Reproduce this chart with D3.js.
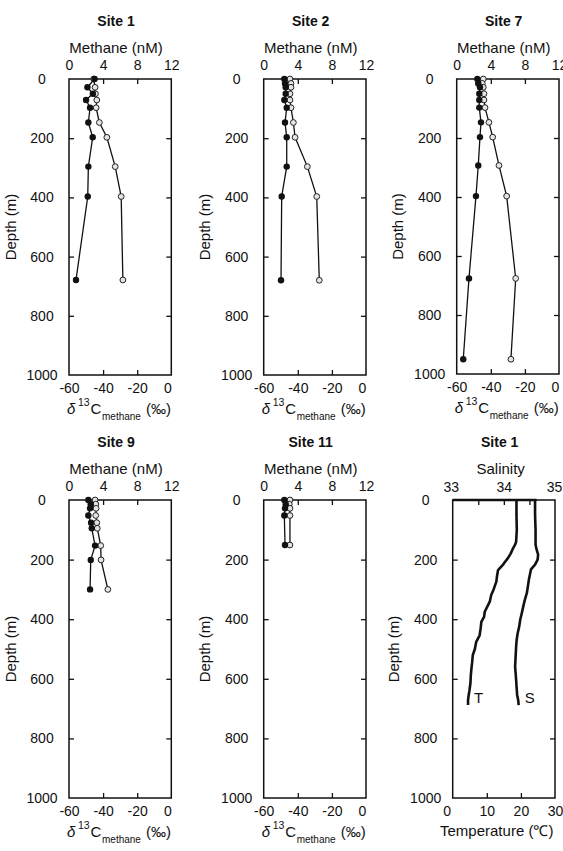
<!DOCTYPE html>
<html>
<head>
<meta charset="utf-8">
<script src="https://cdn.jsdelivr.net/npm/d3@7"></script>
<style>
  body { margin: 0; background: #fff; }
  svg { display: block; }
  text { font-family: "Liberation Sans", Arial, Helvetica, sans-serif; fill: #111; }
</style>
</head>
<body>
<div id="chart"></div>
<script>

// depth (m), methane (nM, filled), d13C of methane (permil, open)
var site1Depth = [0, 28, 50, 71, 97, 147, 197, 296, 397, 679];
var site1CH4   = [3.0, 2.16, 2.8, 2.0, 2.47, 2.27, 2.78, 2.27, 2.2, 0.82];
var site1D13C  = [-45.5, -44.7, -44.5, -43.7, -44.1, -42.2, -37.8, -32.9, -29.4, -28.4];

var site2Depth = [0, 15, 28, 50, 71, 97, 147, 197, 296, 397, 680];
var site2CH4   = [2.42, 2.5, 2.58, 2.58, 2.42, 2.7, 2.5, 2.7, 2.7, 2.11, 2.03];
var site2D13C  = [-44.6, -44.0, -44.0, -44.6, -44.6, -44.0, -42.6, -41.6, -34.4, -28.9, -27.4];

var site7Depth = [0, 15, 28, 50, 71, 97, 147, 197, 293, 397, 676, 950];
var site7CH4   = [2.42, 2.53, 2.73, 2.65, 2.65, 2.65, 2.85, 2.73, 2.53, 2.26, 1.44, 0.77];
var site7D13C  = [-44.4, -45.0, -44.4, -44.0, -44.0, -43.4, -41.1, -38.9, -35.2, -30.7, -25.4, -28.2];

var site9Depth = [0, 14, 28, 52, 76, 95, 153, 201, 300];
var site9CH4   = [2.27, 2.55, 2.47, 2.27, 2.59, 2.67, 3.06, 2.55, 2.47];
var site9D13C  = [-44.7, -44.3, -44.1, -44.3, -43.7, -43.4, -41.4, -41.2, -37.2];

var site11Depth = [0, 14, 28, 52, 151];
var site11CH4   = [2.42, 2.58, 2.5, 2.42, 2.5];
var site11D13C  = [-44.6, -45.0, -44.6, -44.6, -44.6];

// Site 1 CTD profile
var tempDepth = [0, 50, 100, 140, 150, 162, 180, 195, 210, 218, 235, 255, 274, 300, 319, 340, 375, 392, 409, 430, 454, 476, 500, 520, 545, 565, 590, 615, 640, 654, 671, 688];
var tempValue = [18.7, 18.7, 18.8, 18.6, 18.3, 17.7, 17.0, 16.2, 15.2, 14.7, 13.3, 13.0, 12.8, 12.0, 11.3, 10.9, 9.4, 9.2, 8.4, 8.2, 7.9, 6.9, 6.5, 5.9, 5.7, 5.5, 5.3, 5.2, 4.9, 4.7, 4.5, 4.5];
var salDepth = [0, 50, 100, 150, 166, 183, 200, 217, 233, 250, 267, 290, 312, 335, 357, 380, 402, 425, 447, 470, 492, 525, 559, 580, 604, 630, 654, 671, 688];
var salValue = [34.61, 34.61, 34.62, 34.62, 34.64, 34.67, 34.66, 34.61, 34.53, 34.51, 34.49, 34.47, 34.45, 34.41, 34.38, 34.35, 34.32, 34.30, 34.27, 34.25, 34.24, 34.23, 34.22, 34.23, 34.24, 34.25, 34.26, 34.28, 34.29];

var depthTicks = [0, 200, 400, 600, 800, 1000];
var ch4Ticks = [0, 4, 8, 12];
var d13cTicks = [-60, -40, -20, 0];
var salTicks = [33, 34, 35];
var salInnerTicks = [33.5, 34, 34.5];
var tempTicks = [0, 10, 20, 30];

var width = 563, height = 851;
var boxW = 102.3;
var ink = "#111";
var plain = function(d) { return String(d); };

var svg = d3.select("#chart").append("svg")
    .attr("width", width)
    .attr("height", height);

function inner(ticks) {
   return ticks.slice(1, ticks.length - 1);
}

function styleAxis(g) {
   g.select(".domain").remove();
   g.attr("font-size", 14).attr("font-family", null);
   g.selectAll("line").attr("stroke", ink).attr("stroke-width", 1.3);
   g.selectAll("text").attr("fill", ink);
}

function frame(left, top, h, title) {
   var g = svg.append("g").attr("transform", "translate(" + left + "," + top + ")");
   var y = d3.scaleLinear().domain([0, 1000]).range([0, h]);

   g.append("text")
    .attr("x", 47).attr("y", -53)
    .attr("text-anchor", "middle")
    .attr("font-size", 14).attr("font-weight", "bold")
    .text(title);

   // depth axes, ticks inward on both sides
   var yl = g.append("g").call(d3.axisLeft(y).tickValues(depthTicks).tickSize(-5).tickFormat(plain));
   styleAxis(yl);
   yl.selectAll("text").attr("x", -27).attr("text-anchor", "middle");
   yl.selectAll("line").filter(function(d) { return d == 0 || d == 1000; }).remove();

   var yr = g.append("g").attr("transform", "translate(" + boxW + ",0)")
     .call(d3.axisRight(y).tickValues(inner(depthTicks)).tickSize(-5).tickFormat(""));
   styleAxis(yr);

   g.append("text")
    .attr("transform", "translate(-59," + (h / 2) + ") rotate(-90)")
    .attr("text-anchor", "middle")
    .attr("dominant-baseline", "central")
    .attr("font-size", 15)
    .text("Depth (m)");

   return { g: g, y: y, h: h };
}

function border(p, topWidth) {
   p.g.append("rect")
    .attr("width", boxW).attr("height", p.h)
    .attr("fill", "none").attr("stroke", ink).attr("stroke-width", 1.5);
   if (topWidth) {
      p.g.append("line")
       .attr("x1", 0).attr("x2", boxW * 0.82).attr("y1", 0).attr("y2", 0)
       .attr("stroke", ink).attr("stroke-width", topWidth);
   }
}

function methanePanel(left, top, h, title, depth, ch4, d13c) {
   var p = frame(left, top, h, title);
   var g = p.g, y = p.y;
   var xC = d3.scaleLinear().domain([0, 12]).range([0, boxW]);
   var xD = d3.scaleLinear().domain([-60, 0]).range([0, boxW]);

   var ta = g.append("g").call(d3.axisTop(xC).tickValues(ch4Ticks).tickSize(-5).tickPadding(9).tickFormat(plain));
   styleAxis(ta);
   ta.selectAll("line").filter(function(d) { return d == 0 || d == 12; }).remove();

   var ba = g.append("g").attr("transform", "translate(0," + h + ")")
     .call(d3.axisBottom(xD).tickValues(d13cTicks).tickSize(-5).tickPadding(8).tickFormat(plain));
   styleAxis(ba);
   ba.selectAll("line").filter(function(d) { return d == -60 || d == 0; }).remove();
   ba.selectAll("text").filter(function(d) { return d == 0; }).attr("dx", -4);

   g.append("text")
    .attr("x", 47).attr("y", -26)
    .attr("text-anchor", "middle")
    .attr("font-size", 15)
    .text("Methane (nM)");

   // delta 13C methane label
   var by = h + 38.5;
   g.append("text").attr("x", -2).attr("y", by).attr("font-size", 15).attr("font-style", "italic").text("δ");
   g.append("text").attr("x", 9).attr("y", by - 8).attr("font-size", 10.5).text("13");
   g.append("text").attr("x", 21.5).attr("y", by).attr("font-size", 15).text("C");
   g.append("text").attr("x", 33).attr("y", by + 6).attr("font-size", 10).text("methane");
   g.append("text").attr("x", 77).attr("y", by).attr("font-size", 15).text("(‰)");

   border(p);

   var rows = depth.map(function(d, i) { return { depth: d, ch4: ch4[i], d13c: d13c[i] }; });

   var lineC = d3.line().x(function(d) { return xC(d.ch4); }).y(function(d) { return y(d.depth); });
   var lineD = d3.line().x(function(d) { return xD(d.d13c); }).y(function(d) { return y(d.depth); });

   g.append("path").datum(rows).attr("d", lineD)
    .attr("fill", "none").attr("stroke", ink).attr("stroke-width", 1.3);
   g.append("path").datum(rows).attr("d", lineC)
    .attr("fill", "none").attr("stroke", ink).attr("stroke-width", 1.3);

   g.selectAll(".open").data(rows).enter()
    .append("circle").attr("class", "open")
    .attr("cx", function(d) { return xD(d.d13c); })
    .attr("cy", function(d) { return y(d.depth); })
    .attr("r", 2.9)
    .attr("fill", "#e4e4e4").attr("stroke", "#222").attr("stroke-width", 1);

   g.selectAll(".filled").data(rows).enter()
    .append("circle").attr("class", "filled")
    .attr("cx", function(d) { return xC(d.ch4); })
    .attr("cy", function(d) { return y(d.depth); })
    .attr("r", 3.2)
    .attr("fill", ink);
}

function ctdPanel(left, top, h, title) {
   var p = frame(left, top, h, title);
   var g = p.g, y = p.y;
   var xS = d3.scaleLinear().domain([33, 35]).range([0, boxW]);
   var xT = d3.scaleLinear().domain([0, 30]).range([0, boxW]);

   var ta = g.append("g").call(d3.axisTop(xS).tickValues(salTicks).tickSize(0).tickPadding(8).tickFormat(plain));
   styleAxis(ta);
   ta.selectAll("text").filter(function(d) { return d == 33; }).attr("dx", -2);
   ta.selectAll("text").filter(function(d) { return d == 35; }).attr("dx", -1);
   g.append("g").call(function(s) {
      s.call(d3.axisTop(xS).tickValues(salInnerTicks).tickSize(-5).tickFormat(""));
      styleAxis(s);
   });

   var ba = g.append("g").attr("transform", "translate(0," + h + ")")
     .call(d3.axisBottom(xT).tickValues(tempTicks).tickSize(-5).tickPadding(8).tickFormat(plain));
   styleAxis(ba);
   ba.selectAll("line").filter(function(d) { return d == 0 || d == 30; }).remove();
   ba.selectAll("text").filter(function(d) { return d == 0; }).attr("dx", -6);

   g.append("text")
    .attr("x", 48).attr("y", -26)
    .attr("text-anchor", "middle")
    .attr("font-size", 15)
    .text("Salinity");

   g.append("text")
    .attr("x", 44).attr("y", h + 38)
    .attr("text-anchor", "middle")
    .attr("font-size", 15)
    .text("Temperature (℃)");

   border(p, 2.5);

   var tRows = tempDepth.map(function(d, i) { return { depth: d, v: tempValue[i] }; });
   var sRows = salDepth.map(function(d, i) { return { depth: d, v: salValue[i] }; });

   var lineT = d3.line().x(function(d) { return xT(d.v); }).y(function(d) { return y(d.depth); });
   var lineS = d3.line().x(function(d) { return xS(d.v); }).y(function(d) { return y(d.depth); });

   g.append("path").datum(tRows).attr("d", lineT)
    .attr("fill", "none").attr("stroke", ink).attr("stroke-width", 2.6).attr("stroke-linejoin", "round");
   g.append("path").datum(sRows).attr("d", lineS)
    .attr("fill", "none").attr("stroke", ink).attr("stroke-width", 2.6).attr("stroke-linejoin", "round");

   var lt = tRows[tRows.length - 1], ls = sRows[sRows.length - 1];
   g.append("text")
    .attr("x", xT(lt.v) + 6).attr("y", y(662))
    .attr("dominant-baseline", "central")
    .attr("font-size", 15).text("T");
   g.append("text")
    .attr("x", xS(ls.v) + 6).attr("y", y(662))
    .attr("dominant-baseline", "central")
    .attr("font-size", 15).text("S");
}

methanePanel(69, 79, 296, "Site 1", site1Depth, site1CH4, site1D13C);
methanePanel(263.7, 79, 296, "Site 2", site2Depth, site2CH4, site2D13C);
methanePanel(456.7, 79, 295, "Site 7", site7Depth, site7CH4, site7D13C);
methanePanel(69, 500, 298, "Site 9", site9Depth, site9CH4, site9D13C);
methanePanel(263.7, 500, 298, "Site 11", site11Depth, site11CH4, site11D13C);
ctdPanel(452.7, 500, 298, "Site 1");

</script>
</body>
</html>
